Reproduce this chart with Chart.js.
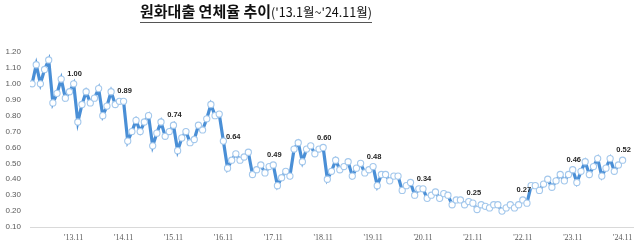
<!DOCTYPE html>
<html><head><meta charset="utf-8">
<script src="https://cdn.jsdelivr.net/npm/chart.js@4"></script>
<style>
html,body{margin:0;padding:0;background:#fff;}
#wrap{position:relative;width:640px;height:248px;overflow:hidden;}
#title{position:absolute;left:140px;top:0px;white-space:nowrap;border-bottom:1.5px solid #555;font-family:"Noto Sans CJK KR","Noto Sans CJK SC",sans-serif;line-height:21px;color:#111;}
#title .m{font-size:15px;font-weight:bold;}
#title .s{font-size:12.5px;}
canvas{position:absolute;left:0;top:0;}
</style></head>
<body><div id="wrap"><canvas id="c" width="640" height="248" style="width:640px;height:248px"></canvas><div id="title"><span class="m">원화대출 연체율 추이</span><span class="s">('13.1월~'24.11월)</span></div></div>
<script>
// monthly delinquency rate (%), Jan..Dec of each year
const v2013 = [1.00, 1.12, 1.00, 1.09, 1.15, 0.88, 0.94, 1.03, 0.91, 0.95, 1.00, 0.76];
const v2014 = [0.87, 0.95, 0.88, 0.91, 0.97, 0.80, 0.86, 0.95, 0.87, 0.89, 0.89, 0.64];
const v2015 = [0.70, 0.77, 0.70, 0.76, 0.80, 0.61, 0.69, 0.76, 0.67, 0.70, 0.74, 0.58];
const v2016 = [0.66, 0.70, 0.63, 0.65, 0.74, 0.71, 0.78, 0.87, 0.80, 0.81, 0.64, 0.47];
const v2017 = [0.52, 0.56, 0.52, 0.54, 0.57, 0.43, 0.46, 0.49, 0.44, 0.48, 0.49, 0.36];
const v2018 = [0.41, 0.45, 0.42, 0.59, 0.63, 0.51, 0.59, 0.61, 0.56, 0.59, 0.60, 0.40];
const v2019 = [0.45, 0.52, 0.46, 0.48, 0.51, 0.42, 0.47, 0.50, 0.44, 0.46, 0.48, 0.36];
const v2020 = [0.43, 0.43, 0.39, 0.42, 0.42, 0.33, 0.36, 0.38, 0.30, 0.34, 0.34, 0.28];
const v2021 = [0.30, 0.32, 0.28, 0.31, 0.30, 0.24, 0.27, 0.27, 0.24, 0.26, 0.25, 0.21];
const v2022 = [0.24, 0.23, 0.22, 0.24, 0.24, 0.20, 0.22, 0.24, 0.22, 0.24, 0.27, 0.25];
const v2023 = [0.36, 0.36, 0.33, 0.37, 0.40, 0.35, 0.39, 0.43, 0.39, 0.43, 0.46, 0.38];
const v2024 = [0.45, 0.51, 0.43, 0.48, 0.53, 0.42, 0.47, 0.53, 0.45, 0.49, 0.52];

const years = ['13','14','15','16','17','18','19','20','21','22','23','24'];
const tickLabels = ["'13.11","'14.11","'15.11","'16.11","'17.11","'18.11","'19.11","'20.11","'21.11","'22.11","'23.11","'24.11"];
const yTicks = [0.10,0.20,0.30,0.40,0.50,0.60,0.70,0.80,0.90,1.00,1.10,1.20];

const values = [].concat(v2013,v2014,v2015,v2016,v2017,v2018,v2019,v2020,v2021,v2022,v2023,v2024);
const categories = [];
years.forEach(y => { for (let m = 1; m <= 12; m++) categories.push("'" + y + "." + m); });
const points = values.map((v, i) => ({x: i, y: v}));
const novIdx = categories.map((c, i) => c.endsWith('.11') ? i : -1).filter(i => i >= 0 && i < values.length);

const labelPlugin = {
  id: 'novLabels',
  afterDatasetsDraw(chart) {
    const ctx = chart.ctx, meta = chart.getDatasetMeta(0);
    ctx.save();
    ctx.font = 'bold 7.5px "Liberation Sans", Arial, sans-serif';
    ctx.fillStyle = '#262626';
    ctx.textBaseline = 'middle';
    novIdx.forEach(i => {
      const p = meta.data[i];
      const t = values[i].toFixed(2);
      if (categories[i] === "'16.11") { ctx.textAlign = 'left'; ctx.fillText(t, p.x + 2.5, p.y - 4); }
      else { ctx.textAlign = 'center'; ctx.fillText(t, p.x + 1, p.y - 10); }
    });
    ctx.restore();
  }
};

new Chart(document.getElementById('c'), {
  type: 'line',
  data: { datasets: [{
    data: points,
    borderColor: '#4a8fd6',
    borderWidth: 3.2,
    pointRadius: 3.1,
    pointBackgroundColor: '#ffffff',
    pointBorderColor: '#a4c8ec',
    pointBorderWidth: 1.1,
    tension: 0
  }]},
  options: {
    responsive: false, animation: false,
    layout: { padding: { top: 52, right: 7, left: 0, bottom: 0 } },
    plugins: { legend: { display: false }, tooltip: { enabled: false } },
    scales: {
      x: {
        type: 'linear', min: -0.5, max: 144.5,
        afterBuildTicks: s => { s.ticks = novIdx.map(v => ({ value: v })); },
        afterFit: s => { s.height = 21; },
        grid: { display: false, drawTicks: false },
        border: { display: true, color: '#d9d9d9', width: 1 },
        ticks: { autoSkip: false, maxRotation: 0, padding: 6, color: '#595959',
          font: { size: 8, family: '"Liberation Serif", "Times New Roman", serif' },
          callback: v => tickLabels[novIdx.indexOf(v)] }
      },
      y: {
        min: 0.10, max: 1.20,
        afterBuildTicks: s => { s.ticks = yTicks.map(v => ({ value: v })); },
        afterFit: s => { s.width = 30; },
        grid: { display: false, drawTicks: false },
        border: { display: false },
        ticks: { padding: 9, color: '#595959', font: { size: 8, family: '"Liberation Sans", Arial, sans-serif' },
          callback: v => v.toFixed(2) }
      }
    }
  },
  plugins: [labelPlugin]
});
</script>
</body></html>
